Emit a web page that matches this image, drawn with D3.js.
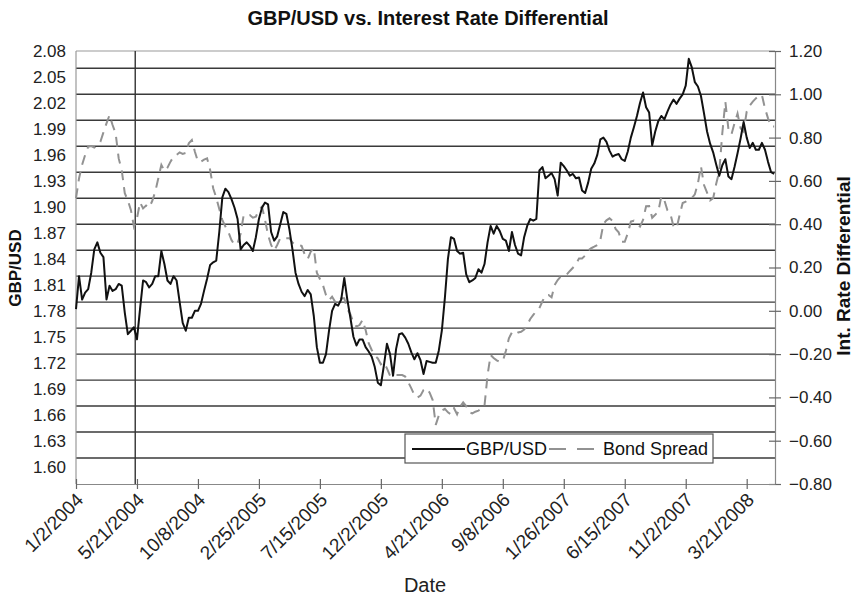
<!DOCTYPE html>
<html>
<head>
<meta charset="utf-8">
<script src="https://cdn.jsdelivr.net/npm/d3@7"></script>
<style>
  body { margin: 0; background: #fff; }
  svg { font-family: "Liberation Sans", Arial, sans-serif; }
</style>
</head>
<body>
<div id="chart"></div>
<script>
// weekly closes, Friday 1/2/2004 onwards
const startDate = new Date(2004, 0, 2);
const endDate = new Date(2008, 4, 25);
const markerDate = new Date(2004, 4, 17);

const gbpUsd = [
  1.782, 1.820, 1.793, 1.801, 1.805, 1.824, 1.851, 1.859, 1.847, 1.842,
  1.793, 1.809, 1.803, 1.805, 1.811, 1.809, 1.778, 1.753, 1.757, 1.761,
  1.747, 1.782, 1.815, 1.813, 1.807, 1.811, 1.820, 1.820, 1.849, 1.834,
  1.815, 1.811, 1.820, 1.815, 1.790, 1.766, 1.757, 1.772, 1.772, 1.780,
  1.780, 1.788, 1.803, 1.817, 1.833, 1.836, 1.838, 1.871, 1.911, 1.921,
  1.917, 1.909, 1.899, 1.886, 1.851, 1.856, 1.859, 1.855, 1.849, 1.865,
  1.886, 1.899, 1.905, 1.903, 1.871, 1.861, 1.866, 1.880, 1.894, 1.892,
  1.874, 1.851, 1.824, 1.811, 1.802, 1.797, 1.804, 1.799, 1.774, 1.738,
  1.720, 1.720, 1.730, 1.757, 1.780, 1.788, 1.786, 1.793, 1.818, 1.793,
  1.772, 1.750, 1.740, 1.747, 1.747, 1.738, 1.733, 1.727, 1.715, 1.697,
  1.694, 1.717, 1.742, 1.730, 1.705, 1.736, 1.753, 1.754, 1.749, 1.742,
  1.732, 1.724, 1.731, 1.723, 1.707, 1.722, 1.721, 1.720, 1.720, 1.734,
  1.757, 1.795, 1.840, 1.865, 1.863, 1.849, 1.846, 1.847, 1.822, 1.813,
  1.815, 1.818, 1.828, 1.824, 1.834, 1.859, 1.878, 1.869, 1.878, 1.872,
  1.863, 1.861, 1.849, 1.871, 1.856, 1.846, 1.844, 1.865, 1.878, 1.886,
  1.884, 1.886, 1.942, 1.946, 1.933, 1.936, 1.939, 1.932, 1.913, 1.951,
  1.947, 1.942, 1.936, 1.938, 1.933, 1.934, 1.919, 1.916, 1.928, 1.944,
  1.950, 1.960, 1.978, 1.980, 1.975, 1.965, 1.958, 1.960, 1.961, 1.955,
  1.953, 1.964, 1.980, 1.992, 2.005, 2.020, 2.032, 2.015, 2.009, 1.971,
  1.987, 1.999, 2.005, 2.001, 2.010, 2.018, 2.024, 2.019, 2.025, 2.030,
  2.040, 2.071, 2.061, 2.044, 2.039, 2.028, 2.008, 1.987, 1.973, 1.963,
  1.949, 1.936, 1.948, 1.955, 1.935, 1.932, 1.946, 1.962, 1.979, 1.998,
  1.980, 1.968, 1.974, 1.966, 1.966, 1.974, 1.966, 1.952, 1.940, 1.938
];

const bondSpread = [
  0.520, 0.612, 0.674, 0.720, 0.758, 0.761, 0.754, 0.766, 0.781, 0.824,
  0.866, 0.904, 0.858, 0.820, 0.704, 0.650, 0.543, 0.510, 0.466, 0.389,
  0.427, 0.501, 0.473, 0.486, 0.476, 0.507, 0.550, 0.612, 0.674, 0.646,
  0.661, 0.689, 0.712, 0.720, 0.732, 0.725, 0.729, 0.774, 0.789, 0.735,
  0.689, 0.689, 0.698, 0.704, 0.650, 0.566, 0.523, 0.470, 0.420, 0.389,
  0.363, 0.327, 0.304, 0.312, 0.356, 0.442, 0.442, 0.442, 0.430, 0.435,
  0.466, 0.481, 0.420, 0.350, 0.304, 0.278, 0.304, 0.335, 0.335, 0.335,
  0.335, 0.315, 0.304, 0.304, 0.300, 0.261, 0.239, 0.273, 0.289, 0.176,
  0.147, 0.119, 0.073, 0.049, 0.065, 0.042, 0.035, 0.058, 0.058, 0.008,
  -0.016, -0.055, -0.073, -0.066, -0.042, -0.089, -0.150, -0.181, -0.207, -0.220,
  -0.247, -0.238, -0.266, -0.300, -0.304, -0.297, -0.297, -0.297, -0.304, -0.330,
  -0.358, -0.389, -0.401, -0.392, -0.366, -0.358, -0.378, -0.412, -0.527, -0.484,
  -0.461, -0.453, -0.469, -0.478, -0.450, -0.478, -0.443, -0.423, -0.440, -0.469,
  -0.474, -0.466, -0.461, -0.453, -0.438, -0.297, -0.204, -0.218, -0.229, -0.235,
  -0.232, -0.186, -0.127, -0.100, -0.109, -0.100, -0.097, -0.087, -0.066, -0.038,
  -0.019, -0.001, 0.012, 0.044, 0.072, 0.073, 0.062, 0.119, 0.142, 0.158,
  0.165, 0.168, 0.184, 0.199, 0.215, 0.242, 0.242, 0.255, 0.279, 0.289,
  0.296, 0.304, 0.327, 0.401, 0.418, 0.427, 0.415, 0.378, 0.363, 0.319,
  0.319, 0.358, 0.412, 0.416, 0.402, 0.389, 0.420, 0.483, 0.484, 0.430,
  0.444, 0.458, 0.529, 0.510, 0.464, 0.447, 0.389, 0.381, 0.442, 0.498,
  0.504, 0.515, 0.520, 0.538, 0.589, 0.667, 0.581, 0.546, 0.510, 0.520,
  0.587, 0.643, 0.820, 0.966, 0.840, 0.815, 0.866, 0.911, 0.843, 0.828,
  0.920, 0.948, 0.966, 0.981, 0.994, 0.997, 0.935, 0.889, 0.851, 0.851
];

const dateTicks = ['1/2/2004', '5/21/2004', '10/8/2004', '2/25/2005', '7/15/2005',
  '12/2/2005', '4/21/2006', '9/8/2006', '1/26/2007', '6/15/2007', '11/2/2007', '3/21/2008'];
const leftTicks = [2.08, 2.05, 2.02, 1.99, 1.96, 1.93, 1.90, 1.87, 1.84, 1.81,
  1.78, 1.75, 1.72, 1.69, 1.66, 1.63, 1.60];
const gridLevels = [2.06, 2.03, 2.00, 1.97, 1.94, 1.91, 1.88, 1.85, 1.82, 1.79,
  1.76, 1.73, 1.70, 1.67, 1.64, 1.61];
const rightTicks = [1.2, 1.0, 0.8, 0.6, 0.4, 0.2, 0.0, -0.2, -0.4, -0.6, -0.8];

const width = 857, height = 600;
const plotL = 76, plotR = 775, plotT = 51, plotB = 484;
const font = '"Liberation Sans", Arial, sans-serif';

const parseTick = d3.timeParse('%m/%d/%Y');
const dates = gbpUsd.map((_, i) => d3.timeDay.offset(startDate, 7 * i));

const x = d3.scaleTime().domain([startDate, endDate]).range([plotL, plotR]);
const yL = d3.scaleLinear().domain([1.58, 2.08]).range([plotB, plotT]);
const yR = d3.scaleLinear().domain([-0.8, 1.2]).range([plotB, plotT]);

const svg = d3.select('#chart').append('svg')
  .attr('width', width).attr('height', height);

// title
svg.append('text')
  .attr('x', 428).attr('y', 25)
  .attr('text-anchor', 'middle')
  .attr('font-size', 20).attr('font-weight', 'bold')
  .attr('fill', '#111')
  .text('GBP/USD vs. Interest Rate Differential');

// grid
svg.append('g')
  .selectAll('line')
  .data(gridLevels)
  .join('line')
  .attr('x1', plotL).attr('x2', plotR)
  .attr('y1', (d) => yL(d)).attr('y2', (d) => yL(d))
  .attr('stroke', '#3a3a3a').attr('stroke-width', 1.4);

// frame
svg.append('line')
  .attr('x1', plotL).attr('x2', plotR).attr('y1', plotT).attr('y2', plotT)
  .attr('stroke', '#999').attr('stroke-width', 1.2);
svg.append('line')
  .attr('x1', plotL).attr('x2', plotL).attr('y1', plotT).attr('y2', plotB)
  .attr('stroke', '#999').attr('stroke-width', 1.2);

// vertical marker
svg.append('line')
  .attr('x1', x(markerDate)).attr('x2', x(markerDate))
  .attr('y1', plotT).attr('y2', plotB)
  .attr('stroke', '#333').attr('stroke-width', 1.4);

// left axis labels
svg.append('g')
  .selectAll('text')
  .data(leftTicks)
  .join('text')
  .attr('x', 66).attr('y', (d) => yL(d))
  .attr('dy', '0.35em')
  .attr('text-anchor', 'end')
  .attr('font-size', 17).attr('fill', '#222')
  .text(d3.format('.2f'));

// right axis
const axisR = svg.append('g')
  .attr('transform', `translate(${plotR},0)`)
  .call(d3.axisRight(yR).tickValues(rightTicks).tickFormat(d3.format('.2f'))
    .tickSize(6).tickPadding(8));
axisR.select('.domain').attr('stroke', '#888').attr('stroke-width', 1.2);
axisR.selectAll('.tick line').attr('x1', -6).attr('stroke', '#666').attr('stroke-width', 1.2);
axisR.selectAll('text').attr('font-size', 17).attr('fill', '#222')
  .attr('font-family', font);

// bottom axis
const axisB = svg.append('g')
  .attr('transform', `translate(0,${plotB})`)
  .call(d3.axisBottom(x).tickValues(dateTicks.map(parseTick))
    .tickFormat(d3.timeFormat('%-m/%-d/%Y')).tickSize(5).tickSizeOuter(0));
axisB.select('.domain').attr('stroke', '#888').attr('stroke-width', 1.2);
axisB.selectAll('.tick line').attr('y1', -5).attr('stroke', '#666').attr('stroke-width', 1.2);
axisB.selectAll('text')
  .attr('font-size', 19).attr('fill', '#222')
  .attr('font-family', font)
  .attr('text-anchor', 'end')
  .attr('dy', '0.3em')
  .attr('transform', 'translate(4,13) rotate(-45)')
  .attr('y', 0).attr('x', 0);

// series
const bondLine = d3.line()
  .x((d, i) => x(dates[i]))
  .y((d) => yR(d));
svg.append('path')
  .datum(bondSpread)
  .attr('d', bondLine)
  .attr('fill', 'none')
  .attr('stroke', '#929292')
  .attr('stroke-width', 2)
  .attr('stroke-dasharray', '10,7');

const gbpLine = d3.line()
  .x((d, i) => x(dates[i]))
  .y((d) => yL(d));
svg.append('path')
  .datum(gbpUsd)
  .attr('d', gbpLine)
  .attr('fill', 'none')
  .attr('stroke', '#111')
  .attr('stroke-width', 2)
  .attr('stroke-linejoin', 'round');

// axis titles
svg.append('text')
  .attr('transform', 'translate(21,268) rotate(-90)')
  .attr('text-anchor', 'middle')
  .attr('font-size', 17).attr('font-weight', 'bold').attr('fill', '#111')
  .text('GBP/USD');
svg.append('text')
  .attr('transform', 'translate(850,266) rotate(-90)')
  .attr('text-anchor', 'middle')
  .attr('font-size', 19).attr('font-weight', 'bold').attr('fill', '#111')
  .text('Int. Rate Differential');
svg.append('text')
  .attr('x', 425).attr('y', 592)
  .attr('text-anchor', 'middle')
  .attr('font-size', 20).attr('fill', '#222')
  .text('Date');

// legend
const legend = svg.append('g').attr('transform', 'translate(405,434)');
legend.append('rect')
  .attr('width', 308).attr('height', 29)
  .attr('fill', '#fff').attr('stroke', '#555').attr('stroke-width', 1.2);
legend.append('line')
  .attr('x1', 7).attr('x2', 60).attr('y1', 15).attr('y2', 15)
  .attr('stroke', '#111').attr('stroke-width', 2);
legend.append('text')
  .attr('x', 61).attr('y', 15).attr('dy', '0.35em')
  .attr('font-size', 18).attr('fill', '#111')
  .text('GBP/USD');
legend.append('line')
  .attr('x1', 144).attr('x2', 194).attr('y1', 15).attr('y2', 15)
  .attr('stroke', '#929292').attr('stroke-width', 2)
  .attr('stroke-dasharray', '17,11');
legend.append('text')
  .attr('x', 198).attr('y', 15).attr('dy', '0.35em')
  .attr('font-size', 18).attr('fill', '#111')
  .text('Bond Spread');
</script>
</body>
</html>
